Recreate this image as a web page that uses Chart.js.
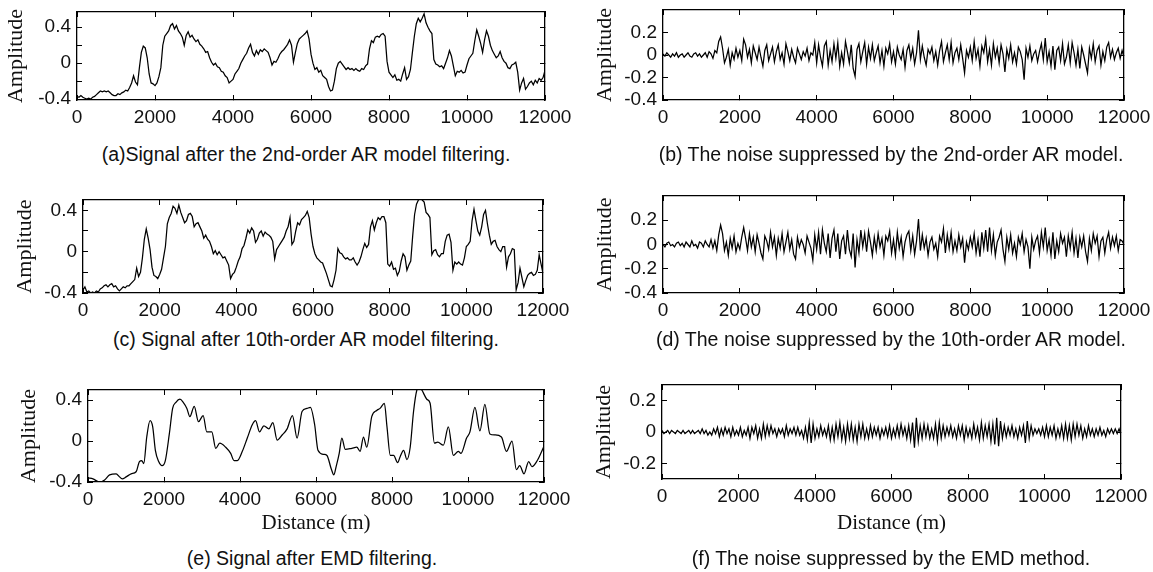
<!DOCTYPE html>
<html><head><meta charset="utf-8">
<script src="https://cdn.jsdelivr.net/npm/chart.js@4.4.0/dist/chart.umd.min.js"></script>
<style>
html,body{margin:0;padding:0;background:#fff;}
body{width:1153px;height:572px;position:relative;overflow:hidden;}
.cap{position:absolute;font-family:'Liberation Sans',Arial,sans-serif;font-size:19.5px;line-height:22px;color:#111;white-space:nowrap;transform:translateX(-50%);}
</style></head><body>
<script>
// ---------- DATA ----------
const distance = [
0,50,100,150,200,250,300,350,400,450,
500,550,600,650,700,750,800,850,900,950,
1000,1050,1100,1150,1200,1250,1300,1350,1400,1450,
1500,1550,1600,1650,1700,1750,1800,1850,1900,1950,
2000,2050,2100,2150,2200,2250,2300,2350,2400,2450,
2500,2550,2600,2650,2700,2750,2800,2850,2900,2950,
3000,3050,3100,3150,3200,3250,3300,3350,3400,3450,
3500,3550,3600,3650,3700,3750,3800,3850,3900,3950,
4000,4050,4100,4150,4200,4250,4300,4350,4400,4450,
4500,4550,4600,4650,4700,4750,4800,4850,4900,4950,
5000,5050,5100,5150,5200,5250,5300,5350,5400,5450,
5500,5550,5600,5650,5700,5750,5800,5850,5900,5950,
6000,6050,6100,6150,6200,6250,6300,6350,6400,6450,
6500,6550,6600,6650,6700,6750,6800,6850,6900,6950,
7000,7050,7100,7150,7200,7250,7300,7350,7400,7450,
7500,7550,7600,7650,7700,7750,7800,7850,7900,7950,
8000,8050,8100,8150,8200,8250,8300,8350,8400,8450,
8500,8550,8600,8650,8700,8750,8800,8850,8900,8950,
9000,9050,9100,9150,9200,9250,9300,9350,9400,9450,
9500,9550,9600,9650,9700,9750,9800,9850,9900,9950,
10000,10050,10100,10150,10200,10250,10300,10350,10400,10450,
10500,10550,10600,10650,10700,10750,10800,10850,10900,10950,
11000,11050,11100,11150,11200,11250,11300,11350,11400,11450,
11500,11550,11600,11650,11700,11750,11800,11850,11900,11950,
12000];

// (a) signal after 2nd-order AR filtering
const signalAR2 = [
-0.37,-0.38,-0.36,-0.38,-0.39,-0.40,-0.39,-0.40,-0.38,-0.37,
-0.35,-0.33,-0.31,-0.32,-0.31,-0.32,-0.31,-0.33,-0.35,-0.36,
-0.36,-0.34,-0.35,-0.33,-0.32,-0.30,-0.31,-0.27,-0.22,-0.14,
-0.21,-0.24,-0.05,0.12,0.19,0.17,0.06,-0.12,-0.22,-0.23,
-0.25,-0.22,-0.15,-0.05,0.20,0.30,0.33,0.36,0.42,0.44,
0.38,0.42,0.36,0.33,0.29,0.20,0.31,0.35,0.29,0.31,
0.27,0.24,0.26,0.21,0.19,0.16,0.12,0.13,0.06,0.01,
-0.02,0.00,-0.04,-0.05,-0.09,-0.10,-0.14,-0.16,-0.22,-0.20,
-0.18,-0.12,-0.09,-0.06,0.00,0.04,0.08,0.11,0.17,0.21,
0.12,0.08,0.14,0.10,0.15,0.13,0.16,0.14,0.12,0.06,
-0.02,0.02,0.01,0.05,0.10,0.13,0.15,0.18,0.21,0.26,
0.20,0.01,0.12,0.22,0.27,0.29,0.31,0.33,0.36,0.27,
0.10,0.00,-0.07,-0.05,-0.10,-0.08,-0.14,-0.16,-0.18,-0.26,
-0.31,-0.30,-0.20,-0.06,0.00,0.02,-0.01,-0.04,-0.07,-0.05,
-0.07,-0.06,-0.08,-0.06,-0.08,-0.09,-0.06,-0.07,-0.03,-0.01,
0.16,0.25,0.23,0.29,0.30,0.29,0.32,0.33,0.30,0.02,
-0.10,-0.13,-0.16,-0.13,-0.19,-0.18,-0.20,-0.12,-0.05,-0.18,
-0.15,-0.07,0.12,0.30,0.44,0.50,0.46,0.50,0.55,0.45,
0.40,0.36,0.33,0.04,-0.01,-0.02,-0.04,-0.03,-0.06,0.00,
0.06,0.14,0.08,-0.03,-0.14,-0.09,-0.10,-0.08,-0.11,-0.10,
-0.02,0.05,0.08,0.11,0.25,0.37,0.30,0.22,0.12,0.26,
0.36,0.30,0.20,0.14,0.10,0.06,0.08,0.13,0.06,0.02,
0.00,-0.05,-0.06,-0.02,-0.01,0.01,-0.10,-0.30,-0.22,-0.17,
-0.29,-0.26,-0.22,-0.20,-0.24,-0.19,-0.22,-0.17,-0.19,-0.16,
-0.08];

// (b) noise suppressed by 2nd-order AR
const noiseAR2 = [
0.01,-0.01,0.02,0.00,-0.02,0.01,-0.01,0.02,-0.02,0.00,
0.01,-0.02,0.00,0.02,-0.01,-0.02,0.01,0.02,-0.01,0.01,
-0.02,0.00,0.02,-0.02,0.03,0.01,-0.03,0.04,0.02,0.12,
0.16,0.06,-0.07,-0.02,0.05,-0.09,0.02,-0.04,0.06,-0.02,
0.04,-0.05,0.14,0.09,-0.02,0.05,-0.07,0.08,0.02,-0.04,
0.07,-0.02,-0.10,0.04,0.09,-0.05,0.01,0.07,-0.06,0.03,
0.09,-0.04,0.02,-0.08,0.10,0.03,-0.05,0.05,-0.02,-0.07,
0.06,0.01,-0.04,0.03,-0.01,0.06,-0.05,0.02,0.00,0.11,
-0.07,0.09,-0.02,-0.10,0.08,0.12,-0.09,0.04,-0.06,0.10,
-0.03,0.11,-0.10,0.02,-0.08,0.12,0.03,-0.07,0.09,-0.12,
-0.19,0.05,0.10,-0.06,0.03,0.11,-0.08,0.07,-0.03,0.09,
-0.05,0.02,0.08,-0.07,0.04,-0.10,0.06,0.01,0.10,-0.06,
0.03,-0.08,0.07,0.00,-0.04,0.05,-0.11,0.04,0.09,-0.03,
0.06,-0.08,0.02,0.22,-0.04,0.08,-0.02,-0.09,0.05,0.01,
0.07,-0.05,0.03,-0.09,0.04,0.12,-0.06,0.02,0.09,-0.04,
0.11,-0.07,0.02,0.06,-0.04,0.09,-0.03,-0.16,0.04,-0.02,
0.07,-0.05,0.12,-0.03,0.05,-0.10,0.08,0.02,0.14,-0.06,
0.05,-0.09,0.10,-0.02,0.06,-0.07,0.09,0.01,-0.15,0.05,
-0.03,0.09,-0.06,0.02,-0.08,0.07,0.03,-0.04,-0.22,0.06,
-0.02,0.08,-0.05,0.01,0.04,-0.06,0.03,0.10,-0.04,0.15,
-0.06,0.03,-0.10,0.08,-0.13,0.04,0.07,-0.05,0.10,-0.08,
-0.02,0.09,-0.07,0.11,0.02,-0.09,0.05,-0.12,0.07,0.00,
-0.08,-0.16,0.06,-0.03,0.10,-0.06,0.04,0.08,-0.09,0.03,
-0.05,0.07,0.11,-0.02,0.05,-0.04,0.02,0.06,-0.03,0.04,
-0.02];

// (c) signal after 10th-order AR filtering
const signalAR10 = [
-0.37,-0.34,-0.39,-0.38,-0.40,-0.39,-0.40,-0.38,-0.39,-0.36,
-0.35,-0.33,-0.32,-0.34,-0.32,-0.31,-0.34,-0.33,-0.36,-0.38,
-0.36,-0.34,-0.35,-0.33,-0.33,-0.31,-0.29,-0.27,-0.16,-0.24,
-0.20,-0.06,0.12,0.22,0.13,0.02,-0.15,-0.23,-0.24,-0.26,
-0.22,-0.17,-0.06,0.05,0.27,0.33,0.37,0.44,0.42,0.37,
0.45,0.38,0.33,0.28,0.30,0.36,0.37,0.34,0.24,0.27,
0.28,0.24,0.20,0.13,0.16,0.12,0.10,0.05,-0.02,0.01,
-0.03,0.00,-0.03,-0.06,-0.05,-0.09,-0.13,-0.26,-0.22,-0.20,
-0.15,-0.09,-0.05,0.03,0.06,0.13,0.21,0.18,0.23,0.20,
0.09,0.12,0.18,0.20,0.15,0.19,0.17,0.16,0.14,0.10,
-0.07,0.02,0.05,0.08,0.11,0.14,0.20,0.24,0.33,0.07,
0.10,0.20,0.28,0.26,0.31,0.33,0.35,0.39,0.33,0.17,
0.05,-0.02,-0.06,-0.08,-0.10,-0.11,-0.16,-0.21,-0.27,-0.33,
-0.34,-0.27,-0.18,0.03,-0.01,-0.02,-0.05,-0.07,-0.06,-0.08,
-0.08,-0.06,-0.10,-0.13,-0.10,-0.05,0.02,0.08,0.04,0.07,
0.24,0.30,0.21,0.28,0.33,0.31,0.34,0.34,0.28,-0.12,
-0.14,-0.10,-0.17,-0.16,-0.23,-0.19,-0.09,-0.02,-0.05,-0.18,
-0.13,-0.09,0.15,0.36,0.46,0.50,0.52,0.50,0.48,0.38,
0.36,0.33,-0.03,0.01,0.02,-0.03,-0.05,-0.02,-0.02,0.10,
0.16,0.17,0.09,-0.18,-0.10,-0.12,-0.10,-0.12,-0.13,-0.06,
0.05,0.07,0.10,0.30,0.41,0.30,0.20,0.16,0.24,0.36,
0.40,0.27,0.16,0.07,0.10,0.11,0.05,0.02,0.00,0.05,
0.05,-0.15,-0.05,-0.02,0.03,0.02,-0.37,-0.30,-0.16,-0.25,
-0.34,-0.28,-0.23,-0.21,-0.20,-0.23,-0.22,-0.18,-0.03,-0.12,
-0.21];

// (d) noise suppressed by 10th-order AR
const noiseAR10 = [
0.00,-0.02,0.01,0.02,-0.01,0.00,-0.02,0.01,0.02,-0.01,
0.01,-0.02,0.02,0.00,-0.02,0.03,-0.01,0.00,-0.03,0.02,
0.01,-0.02,0.03,0.00,-0.02,0.04,-0.03,0.03,-0.05,0.08,
0.16,0.09,-0.05,0.02,-0.09,0.05,-0.03,0.07,-0.06,0.01,
-0.04,0.06,0.14,0.05,-0.05,0.09,-0.02,0.06,-0.06,0.08,
0.01,-0.07,-0.12,0.07,0.03,-0.04,0.10,-0.02,0.06,-0.09,
0.05,-0.03,0.09,-0.06,0.02,0.10,-0.04,0.04,-0.08,-0.12,
0.06,-0.02,0.04,0.00,-0.07,0.07,0.02,-0.03,-0.13,0.08,
-0.04,0.10,-0.08,0.12,0.01,-0.06,0.09,-0.11,0.05,0.12,
-0.06,0.09,-0.12,0.03,0.07,-0.08,0.12,-0.04,-0.10,0.09,
-0.19,0.04,-0.07,0.12,-0.02,0.09,-0.06,0.11,0.02,-0.09,
0.06,-0.05,0.09,-0.02,0.05,-0.09,0.07,0.03,0.11,-0.07,
0.04,-0.09,0.10,-0.03,0.06,-0.10,0.02,0.08,0.11,-0.05,
0.07,-0.08,0.03,0.21,-0.05,0.08,-0.03,0.05,-0.09,0.02,
0.06,-0.04,0.01,-0.10,0.07,0.02,0.13,-0.07,0.08,-0.03,
0.10,-0.06,0.03,-0.05,0.08,-0.02,0.05,-0.15,0.02,-0.04,
0.06,-0.02,0.09,-0.07,0.04,-0.10,0.10,-0.03,0.12,-0.06,
0.14,-0.05,0.08,-0.09,0.02,0.06,0.12,-0.04,-0.14,0.06,
-0.04,0.08,-0.07,0.01,-0.10,0.06,0.00,0.09,-0.06,0.04,
-0.02,-0.20,0.06,-0.04,0.03,0.07,-0.07,0.10,-0.02,0.14,
-0.05,0.04,-0.09,0.10,-0.12,0.03,-0.06,0.09,0.01,0.06,
-0.10,0.07,-0.03,0.10,-0.07,0.05,-0.11,0.06,-0.02,0.07,
-0.06,-0.14,0.05,-0.05,0.09,0.01,0.07,-0.10,0.03,0.06,
-0.07,0.04,0.10,-0.03,0.06,-0.01,0.07,-0.05,0.04,0.03,
0.00];

// (e) signal after EMD filtering (smooth, read at its turning points)
const emdDistance = [0,131,306,437,568,742,830,900,1004,1135,1266,1354,1415,1467,1546,1633,1703,1773,1860,1948,
2035,2140,2227,2314,2419,2506,2602,2681,2795,2908,3030,3126,3257,3362,3467,3624,3755,3843,3930,4061,
4192,4323,4410,4515,4628,4759,4864,4978,5109,5240,5380,5502,5633,5764,5852,5965,6052,6201,6288,6400,
6470,6530,6611,6681,6768,6943,7074,7161,7249,7336,7467,7598,7685,7800,7868,7956,8043,8148,8217,8305,
8392,8479,8567,8654,8720,8785,8916,9003,9117,9204,9352,9483,9614,9745,9815,9963,10051,10182,10313,10444,
10575,10706,10880,11011,11159,11273,11360,11474,11596,11683,11823,12000];
const signalEMD = [-0.36,-0.37,-0.40,-0.38,-0.33,-0.32,-0.35,-0.37,-0.35,-0.32,-0.30,-0.20,-0.19,-0.22,0.04,0.20,0.14,-0.09,-0.20,-0.24,
-0.19,0.07,0.32,0.38,0.41,0.38,0.32,0.24,0.34,0.19,0.25,0.09,0.09,-0.07,-0.02,-0.06,-0.12,-0.19,-0.19,-0.10,
0.03,0.16,0.20,0.09,0.15,0.12,0.18,0.01,0.06,0.12,0.25,0.03,0.29,0.32,0.33,0.16,-0.09,-0.13,-0.14,-0.27,
-0.33,-0.25,-0.12,0.03,-0.08,-0.07,-0.06,-0.10,0.04,-0.06,0.24,0.30,0.32,0.37,0.14,-0.14,-0.14,-0.21,-0.15,-0.09,
-0.18,-0.06,0.29,0.50,0.53,0.50,0.41,0.37,-0.02,-0.01,-0.04,0.14,-0.14,-0.10,-0.12,0.03,0.09,0.33,0.10,0.36,
0.07,0.06,0.04,-0.10,0.00,-0.28,-0.24,-0.32,-0.20,-0.25,-0.19,-0.05];

// (f) noise suppressed by EMD
const noiseEMD = [
0.01,-0.01,0.00,0.01,-0.01,0.01,0.00,-0.01,0.01,0.00,
-0.01,0.01,-0.01,0.00,0.01,-0.01,0.01,-0.01,0.00,0.01,
-0.01,0.02,-0.01,0.01,-0.02,0.00,-0.02,0.02,-0.01,0.03,
-0.03,0.02,-0.02,0.03,-0.01,0.02,-0.03,0.03,-0.02,0.01,
-0.02,0.03,-0.03,0.01,-0.02,0.03,-0.04,0.03,-0.01,0.04,
-0.04,0.02,-0.04,0.05,-0.03,0.04,-0.02,0.04,-0.01,0.02,
-0.03,0.02,-0.01,0.02,-0.03,0.04,-0.02,0.02,-0.01,0.03,
-0.02,0.03,-0.02,0.01,-0.04,0.03,-0.05,0.06,-0.07,0.05,
-0.04,0.02,-0.03,0.04,-0.02,0.02,-0.03,0.04,-0.05,0.03,
-0.05,0.05,-0.03,0.06,-0.05,0.03,-0.06,0.05,-0.04,0.05,
-0.05,0.03,-0.06,0.05,-0.03,0.05,-0.04,0.02,-0.04,0.04,
-0.03,0.03,-0.02,0.03,-0.04,0.02,-0.02,0.03,-0.03,0.04,
-0.04,0.02,-0.03,0.04,-0.03,0.05,-0.02,0.03,-0.04,0.04,
-0.05,0.06,-0.10,0.09,-0.06,0.04,-0.04,0.05,-0.03,0.04,
-0.04,0.02,-0.04,0.05,-0.06,0.06,-0.04,0.04,-0.03,0.03,
-0.02,0.04,-0.03,0.02,-0.04,0.04,-0.02,0.04,-0.05,0.03,
-0.03,0.02,-0.04,0.05,-0.03,0.03,-0.05,0.06,-0.04,0.04,
-0.03,0.05,-0.06,0.05,-0.08,0.09,-0.09,0.07,-0.04,0.04,
-0.03,0.03,-0.02,0.04,-0.03,0.02,-0.04,0.03,-0.02,0.04,
-0.07,0.07,-0.04,0.04,-0.02,0.02,-0.01,0.02,-0.02,0.03,
-0.03,0.04,-0.03,0.03,-0.02,0.04,-0.04,0.02,-0.03,0.04,
-0.04,0.05,-0.04,0.04,-0.05,0.05,-0.03,0.05,-0.02,0.04,
-0.04,0.02,-0.03,0.04,-0.02,0.02,-0.03,0.02,-0.02,0.03,
-0.02,0.01,-0.03,0.02,-0.01,0.02,-0.01,0.02,-0.01,0.02,
-0.02];

// tick values and labels
const xTicks = [0,2000,4000,6000,8000,10000,12000];
const xTickLabels = ['0','2000','4000','6000','8000','10000','12000'];
const ySignalTicks = [-0.4,-0.2,0,0.2,0.4];
const ySignalLabels = ['-0.4','','0','','0.4'];
const yNoiseTicks = [-0.4,-0.2,0,0.2];
const yNoiseLabels = ['-0.4','-0.2','0','0.2'];
const yEmdNoiseTicks = [-0.2,0,0.2];
const yEmdNoiseLabels = ['-0.2','0','0.2'];

const yAxisTitle = 'Amplitude';
const xAxisTitle = 'Distance (m)';
const captions = [
 '(a)Signal after the 2nd-order AR model filtering.',
 '(b) The noise suppressed by the 2nd-order AR model.',
 '(c) Signal after 10th-order AR model filtering.',
 '(d) The noise suppressed by the 10th-order AR model.',
 '(e) Signal after EMD filtering.',
 '(f) The noise suppressed by the EMD method.'
];

// ---------- LAYOUT ----------
const panels = [
 {dist:distance, amp:signalAR2, box:[77,12,545,100], yMin:-0.41, yMax:0.57, yt:ySignalTicks, yl:ySignalLabels, cap:captions[0], capX:306, capY:155, xTitle:false, gap:61, smooth:false},
 {dist:distance, amp:noiseAR2, box:[663,10,1124,100], yMin:-0.4, yMax:0.4, yt:yNoiseTicks, yl:yNoiseLabels, cap:captions[1], capX:891, capY:155, xTitle:false, gap:58, smooth:false},
 {dist:distance, amp:signalAR10, box:[83,200,543,293], yMin:-0.4, yMax:0.5, yt:ySignalTicks, yl:ySignalLabels, cap:captions[2], capX:306, capY:340, xTitle:false, gap:58, smooth:false},
 {dist:distance, amp:noiseAR10, box:[663,196,1124,293], yMin:-0.4, yMax:0.4, yt:yNoiseTicks, yl:yNoiseLabels, cap:captions[3], capX:891, capY:340, xTitle:false, gap:58, smooth:false},
 {dist:emdDistance, amp:signalEMD, box:[88,390,544,482], yMin:-0.4, yMax:0.5, yt:ySignalTicks, yl:ySignalLabels, cap:captions[4], capX:312, capY:559, xTitle:true, xTitleDy:41, gap:59, smooth:true},
 {dist:distance, amp:noiseEMD, box:[662,385,1121,479], yMin:-0.3, yMax:0.3, yt:yEmdNoiseTicks, yl:yEmdNoiseLabels, cap:captions[5], capX:891, capY:559, xTitle:true, xTitleDy:44, gap:58, smooth:false}
];

const tickFont = {family:"'Liberation Sans', Arial, Helvetica, sans-serif", size:19};
const serifFont = {family:"'Liberation Serif', 'Times New Roman', Times, serif", size:21};
const ampFont = {family:"'Liberation Serif', 'Times New Roman', Times, serif", size:22};
const INK = '#111';

function buildPanel(p){
  const [L,T,R,B] = p.box;
  const YW = 80, PT = 16, PR = 40, XH = p.xTitle ? 64 : 34;
  const w = R-L+YW+PR, h = B-T+PT+XH;
  const cv = document.createElement('canvas');
  cv.width = w; cv.height = h;
  cv.style.cssText = `position:absolute;left:${L-YW}px;top:${T-PT}px;width:${w}px;height:${h}px;`;
  document.body.appendChild(cv);

  const grid = {display:true, drawOnChartArea:false, drawTicks:true, tickLength:-5, color:'#000', lineWidth:1};
  const border = {display:true, color:'#000', width:1.3};
  const setTicks = vals => ax => { ax.ticks = vals.map(v => ({value:v})); };
  const lhX = serifFont.size*1.2, lhY = ampFont.size*1.2;

  new Chart(cv, {
    type:'line',
    data:{datasets:[{
      data: p.dist.map((d,i)=>({x:d, y:p.amp[i]})),
      borderColor:'#000', borderWidth:1.25, pointRadius:0, pointHoverRadius:0,
      fill:false, tension: p.smooth ? 0.4 : 0,
      cubicInterpolationMode: p.smooth ? 'monotone' : 'default'
    }]},
    options:{
      responsive:false, animation:false, devicePixelRatio:1,
      layout:{padding:{left:0, top:PT, right:PR, bottom:0}},
      plugins:{legend:{display:false}, tooltip:{enabled:false}},
      events:[],
      scales:{
        x:{type:'linear', position:'bottom', min:0, max:12000,
           afterBuildTicks:setTicks(xTicks),
           afterFit: ax => { ax.height = XH; ax.paddingLeft = 0; ax.paddingRight = 0; },
           grid, border,
           ticks:{font:tickFont, color:INK, padding:11, autoSkip:false, maxRotation:0, minRotation:0,
                  callback:(v)=> xTickLabels[xTicks.indexOf(v)]},
           title: p.xTitle ? {display:true, text:xAxisTitle, font:serifFont, color:INK,
                  padding:{top:0, bottom: XH - p.xTitleDy - lhX/2}} : {display:false}
        },
        x2:{type:'linear', position:'top', min:0, max:12000,
           afterBuildTicks:setTicks(xTicks),
           afterFit: ax => { ax.height = 0; ax.paddingLeft = 0; ax.paddingRight = 0; },
           grid, border, ticks:{display:false}
        },
        y:{type:'linear', position:'left', min:p.yMin, max:p.yMax,
           afterBuildTicks:setTicks(p.yt),
           afterFit: ax => { ax.width = YW; ax.paddingTop = 0; ax.paddingBottom = 0; },
           grid, border,
           ticks:{font:tickFont, color:INK, padding:11, autoSkip:false,
                  callback:(v)=> p.yl[p.yt.indexOf(v)]},
           title:{display:true, text:yAxisTitle, font:ampFont, color:INK,
                  padding:{top: YW - p.gap - lhY/2, bottom:0}}
        },
        y2:{type:'linear', position:'right', min:p.yMin, max:p.yMax,
           afterBuildTicks:setTicks(p.yt),
           afterFit: ax => { ax.width = 0; ax.paddingTop = 0; ax.paddingBottom = 0; },
           grid, border, ticks:{display:false}
        }
      }
    }
  });

  const cap = document.createElement('div');
  cap.className = 'cap';
  cap.textContent = p.cap;
  cap.style.left = p.capX + 'px';
  cap.style.top = (p.capY - 12.5) + 'px';
  document.body.appendChild(cap);
}

panels.forEach(buildPanel);
</script>
</body></html>
